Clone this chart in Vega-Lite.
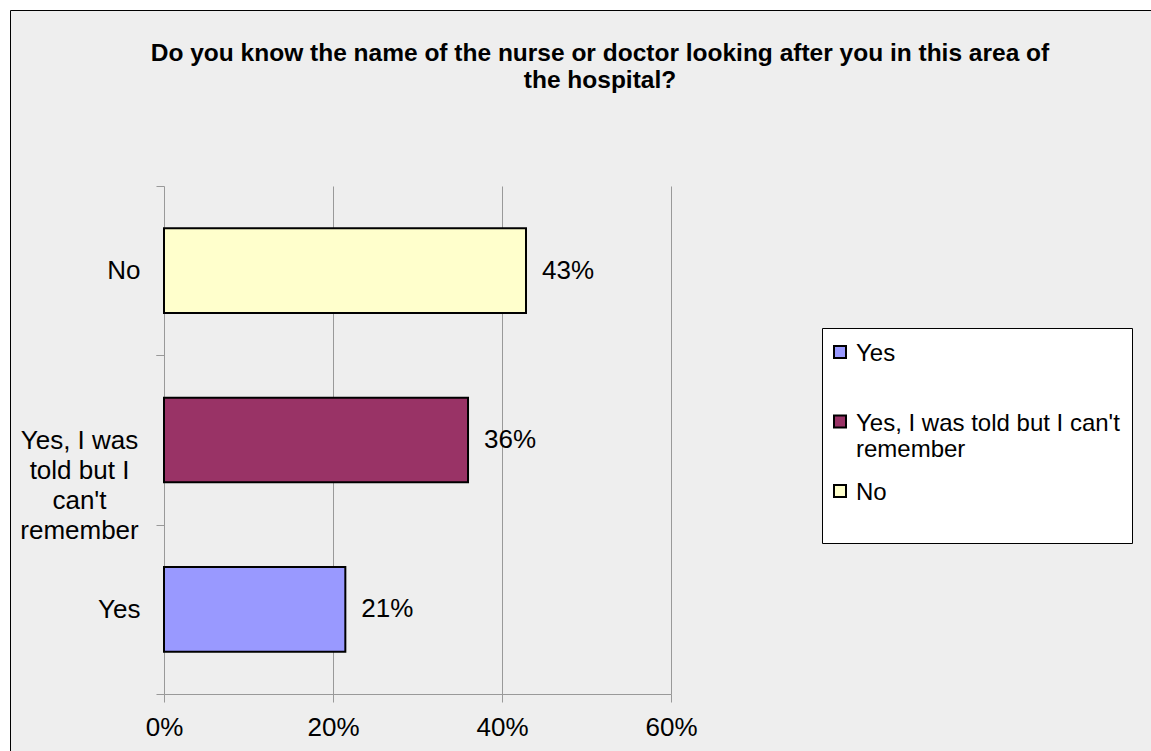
{
  "$schema": "https://vega.github.io/schema/vega-lite/v6.json",
  "width": 1143,
  "height": 743,
  "autosize": {"type": "none"},
  "padding": {"left": 10, "top": 10, "right": 0, "bottom": 0},
  "background": "#ffffff",
  "config": {
    "view": {"fill": "#eeeeee", "stroke": "#000000", "strokeWidth": 1},
    "font": "Liberation Sans"
  },
  "title": {
    "text": ["Do you know the name of the nurse or doctor looking after you in this area of", "the hospital?"],
    "font": "Liberation Sans",
    "fontSize": 24.5,
    "fontWeight": "bold",
    "color": "#000000",
    "anchor": "middle",
    "frame": "group",
    "baseline": "top",
    "offset": -96,
    "dx": 18.5,
    "lineHeight": 27
  },
  "data": {
    "values": [
      {"answer": "Yes", "share": 0.2146},
      {"answer": "Yes, I was told but I can't remember", "share": 0.3598},
      {"answer": "No", "share": 0.4284}
    ]
  },
  "resolve": {"axis": {"x": "independent", "y": "independent"}},
  "layer": [
    {
      "mark": {"type": "bar", "height": {"band": 0.5}, "stroke": "#000000", "strokeWidth": 2},
      "encoding": {
        "y": {
          "field": "answer",
          "type": "nominal",
          "sort": ["No", "Yes, I was told but I can't remember", "Yes"],
          "scale": {"domain": ["No", "Yes, I was told but I can't remember", "Yes"], "range": [176, 684], "paddingInner": 0, "paddingOuter": 0},
          "axis": {
            "orient": "left",
            "offset": -154,
            "values": ["No", "Yes"],
            "title": null,
            "grid": false,
            "domainColor": "#999999",
            "domainWidth": 1,
            "tickColor": "#999999",
            "tickSize": 8,
            "tickBand": "extent",
            "labelFont": "Liberation Sans",
            "labelFontSize": 26,
            "labelColor": "#000000",
            "labelPadding": 16,
            "labelLimit": 0,
            "labelOverlap": false
          }
        },
        "x": {
          "field": "share",
          "type": "quantitative",
          "scale": {"domain": [0, 0.6], "range": [154, 661], "nice": false},
          "axis": {
            "orient": "bottom",
            "offset": -59,
            "values": [0, 0.2, 0.4, 0.6],
            "format": ".0%",
            "grid": false,
            "title": null,
            "domainColor": "#999999",
            "tickColor": "#999999",
            "tickSize": 8,
            "labelFont": "Liberation Sans",
            "labelFontSize": 26,
            "labelColor": "#000000",
            "labelPadding": 12,
            "labelFlush": false,
            "labelOverlap": false
          }
        },
        "fill": {
          "field": "answer",
          "type": "nominal",
          "scale": {"domain": ["Yes", "Yes, I was told but I can't remember", "No"], "range": ["#9999ff", "#993366", "#ffffcc"]},
          "legend": {
            "title": null,
            "orient": "none",
            "legendX": 812,
            "legendY": 318,
            "fillColor": "#ffffff",
            "strokeColor": "#000000",
            "padding": 12,
            "symbolOffset": -6,
            "symbolType": "square",
            "symbolSize": 144,
            "symbolStrokeColor": "#000000",
            "symbolStrokeWidth": 2,
            "labelFont": "Liberation Sans",
            "labelFontSize": 24,
            "labelColor": "#000000",
            "labelOffset": 4,
            "labelLimit": 0,
            "labelLineHeight": 27,
            "labelBaseline": "top",
            "rowPadding": 17.5,
            "gridAlign": "all",
            "labelExpr": "datum.value == 'Yes' ? datum.label : datum.value == 'No' ? ['No', ' '] : [\"Yes, I was told but I can't\", 'remember']",
            "encode": {"labels": {"update": {"dy": {"value": -10}}}}
          }
        }
      }
    },
    {
      "mark": {"type": "text", "align": "left", "baseline": "middle", "dx": 16, "fontSize": 26, "font": "Liberation Sans", "color": "#000000"},
      "encoding": {
        "y": {
          "field": "answer",
          "type": "nominal",
          "axis": {
            "orient": "left",
            "offset": -154,
            "values": ["Yes, I was told but I can't remember"],
            "title": null,
            "grid": false,
            "domain": false,
            "tickColor": "#999999",
            "tickSize": 8,
            "tickBand": "extent",
            "labelFont": "Liberation Sans",
            "labelFontSize": 26,
            "labelColor": "#000000",
            "labelAlign": "center",
            "labelPadding": 77,
            "labelLineHeight": 30,
            "labelLimit": 0,
            "labelOverlap": false,
            "labelExpr": "datum.label == \"Yes, I was told but I can't remember\" ? ['Yes, I was', 'told but I', \"can't\", 'remember'] : datum.label"
          }
        },
        "x": {
          "field": "share",
          "type": "quantitative",
          "axis": {
            "orient": "top",
            "values": [0.2, 0.4, 0.6],
            "grid": true,
            "gridColor": "#999999",
            "gridWidth": 1,
            "domain": false,
            "ticks": false,
            "labels": false,
            "title": null
          }
        },
        "text": {"field": "share", "type": "quantitative", "format": ".0%"}
      }
    }
  ]
}
